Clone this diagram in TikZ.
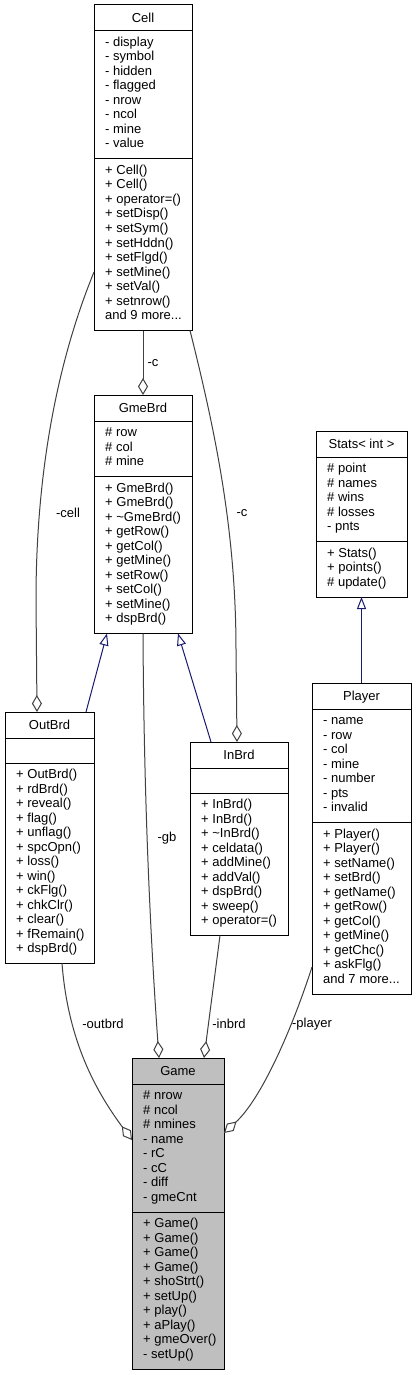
\documentclass[tikz,border=0pt]{standalone}
\usepackage{fontspec}
\setmainfont{Liberation Sans}
\usetikzlibrary{arrows.meta}
\definecolor{edgegray}{HTML}{404040}
\definecolor{navyedge}{HTML}{191970}
\definecolor{gamefill}{HTML}{BFBFBF}
\newcommand\umlfont{\fontsize{13}{14.5}\selectfont}
\newcommand\mydots{...}
\tikzset{
  classbox/.style={draw=black, line width=1pt, anchor=north west, inner sep=0pt, outer sep=0pt, fill=white},
  boxtaggame/.style={fill=gamefill},
  member/.style={anchor=base west, inner sep=0pt, font=\umlfont},
  ctitle/.style={anchor=base, inner sep=0pt, font=\umlfont},
  elabel/.style={inner sep=0pt, font=\umlfont},
  usage/.style={draw=edgegray, line width=1pt, -{Diamond[length=17pt,width=10pt,fill=white]}},
  inherit/.style={draw=navyedge, line width=1pt, -{Triangle[length=12pt,width=9pt,fill=white]}},
  divider/.style={draw=black, line width=1pt}
}
% #1 name, #2 x, #3 top, #4 width, #5 title, #6 attrs, #7 n attrs, #8 methods, #9 n methods
\newcommand\umlclass[9]{%
  \pgfmathsetmacro\ha{(#7==0) ? 25 : (#7*14.5+12)}%
  \pgfmathsetmacro\hm{#9*14.5+12}%
  \pgfmathsetmacro\htot{26+\ha+\hm}%
  \node[classbox, boxtag#1/.try, minimum width=#4pt, minimum height=\htot pt] (#1) at (#2,#3) {};
  \draw[divider] (#2,{#3+26}) -- ++(#4,0);
  \draw[divider] (#2,{#3+26+\ha}) -- ++(#4,0);
  \node[ctitle] (#1-title) at ({#2+#4/2},{#3+17.5}) {#5};
  \ifnum#7>0
    \foreach \m [count=\i from 0] in {#6} {\node[member] (#1-a\i) at ({#2+11},{#3+26+15.5+14.5*\i}) {\m};}
  \fi
  \foreach \m [count=\i from 0] in {#8} {\node[member] (#1-m\i) at ({#2+11},{#3+26+\ha+15.5+14.5*\i}) {\m};}
}
\begin{document}
\begin{tikzpicture}[x=1pt,y=-1pt]
\useasboundingbox (0,0) rectangle (417,1375);
\fill[white] (0,0) rectangle (417,1375);

\umlclass{cell}{94}{5}{98}{Cell}
  {- display,- symbol,- hidden,- flagged,- nrow,- ncol,- mine,- value}{8}
  {+ Cell(),+ Cell(),+ operator=(),+ setDisp(),+ setSym(),+ setHddn(),+ setFlgd(),+ setMine(),+ setVal(),+ setnrow(),and 9 more\mydots}{11}

\umlclass{gmebrd}{94}{395}{98}{GmeBrd}
  {\# row,\# col,\# mine}{3}
  {+ GmeBrd(),+ GmeBrd(),+ \textasciitilde GmeBrd(),+ getRow(),+ getCol(),+ getMine(),+ setRow(),+ setCol(),+ setMine(),+ dspBrd()}{10}

\umlclass{stats}{316}{431}{91}{Stats< int >}
  {\# point,\# names,\# wins,\# losses,- pnts}{5}
  {+ Stats(),+ points(),\# update()}{3}

\umlclass{outbrd}{5}{712}{89}{OutBrd}
  {}{0}
  {+ OutBrd(),+ rdBrd(),+ reveal(),+ flag(),+ unflag(),+ spcOpn(),+ loss(),+ win(),+ ckFlg(),+ chkClr(),+ clear(),+ fRemain(),+ dspBrd()}{13}

\umlclass{inbrd}{190}{742}{98}{InBrd}
  {}{0}
  {+ InBrd(),+ InBrd(),+ \textasciitilde InBrd(),+ celdata(),+ addMine(),+ addVal(),+ dspBrd(),+ sweep(),+ operator=()}{9}

\umlclass{player}{312}{683}{99}{Player}
  {- name,- row,- col,- mine,- number,- pts,- invalid}{7}
  {+ Player(),+ Player(),+ setName(),+ setBrd(),+ getName(),+ getRow(),+ getCol(),+ getMine(),+ getChc(),+ askFlg(),and 7 more\mydots}{11}

\umlclass{game}{132}{1058}{92}{Game}
  {\# nrow,\# ncol,\# nmines,- name,- rC,- cC,- diff,- gmeCnt}{8}
  {+ Game(),+ Game(),+ Game(),+ Game(),+ shoStrt(),+ setUp(),+ play(),+ aPlay(),+ gmeOver(),- setUp()}{10}

% usage (composition) edges
\draw[usage] (cell.south) -- (gmebrd.north);
\node[elabel] (lc1) at (153,363) {-c};

\draw[usage] (cell.west |- 0,272) .. controls (58,360) and (36,470) .. (36,600) -- (outbrd.north -| 37,0);
\node[elabel] (lcell) at (68,513) {-cell};

\draw[usage] (cell.south -| 190,0) .. controls (215,430) and (236,530) .. (236,650) -- (inbrd.north -| 237,0);
\node[elabel] (lc2) at (242,513) {-c};

\draw[usage] (gmebrd.south) .. controls (144,820) and (152,960) .. (game.north -| 159,0);
\node[elabel] (lgb) at (167,838) {-gb};

\draw[usage] (outbrd.south -| 62,0) .. controls (68,1040) and (95,1090) .. (game.west |- 0,1140);
\node[elabel] (lout) at (103,1024) {-outbrd};

\draw[usage] (inbrd.south -| 220,0) -- (game.north -| 204,0);
\node[elabel] (lin) at (229,1024) {-inbrd};

\draw[usage] (player.west |- 0,967) .. controls (290,1035) and (260,1100) .. (game.east |- 0,1133);
\node[elabel] (lpl) at (312,1024) {-player};

% inheritance edges
\draw[inherit] (outbrd.north -| 86,0) -- (gmebrd.south -| 107,0);
\draw[inherit] (inbrd.north -| 211,0) -- (gmebrd.south -| 178,0);
\draw[inherit] (player.north) -- (stats.south);
\end{tikzpicture}
\end{document}
